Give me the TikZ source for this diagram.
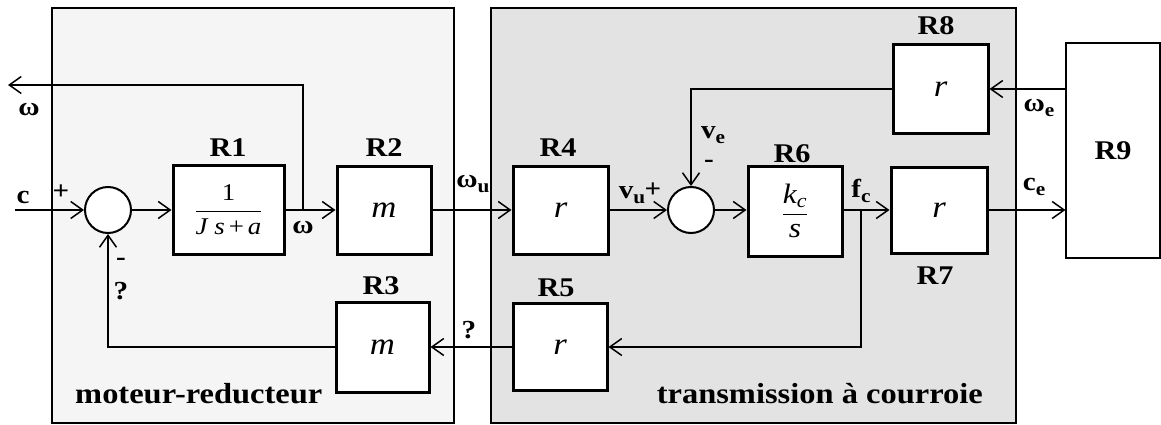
\documentclass[tikz,border=0pt]{standalone}
\usepackage{fontspec}
\usepackage{amsmath}
\setmainfont[FakeStretch=1.12]{Liberation Serif}
\usetikzlibrary{arrows.meta}
\newcommand{\sg}[2]{#1\raisebox{-0.4ex}{\fontsize{19}{19}\selectfont #2}}
\begin{document}
\begin{tikzpicture}[x=1pt,y=-1pt,
 blk/.style={draw, line width=3pt, fill=white, inner sep=0pt, font=\fontsize{31}{33}\selectfont\itshape},
 sumc/.style={draw, circle, line width=2pt, fill=white, minimum size=46pt, inner sep=0pt},
 grp/.style={draw, line width=1.1pt},
 sig/.style={line width=1.2pt, -{Straight Barb[length=12pt,width=17pt,line width=1.5pt]}},
 rl/.style={font=\fontsize{27}{29}\selectfont\bfseries, inner sep=0pt},
 sl/.style={font=\fontsize{26}{28}\selectfont\bfseries, inner sep=0pt},
 gl/.style={font=\fontsize{29}{31}\selectfont\bfseries, inner sep=0pt}
]
\useasboundingbox (0,0) rectangle (1161,425);
% group frames
\fill[gray!8] (52,8) rectangle (454,423);
\draw[grp] (52,8) rectangle (454,423);
\fill[gray!22] (491,8) rectangle (1016,423);
\draw[grp] (491,8) rectangle (1016,423);

% blocks
\node[blk, minimum width=111pt, minimum height=89pt] (R1) at (228.5,210) {\fontsize{24}{26}\selectfont$\dfrac{\text{\upshape 1}}{\text{J s\,\upshape+\,\itshape a}}$};
\node[blk, minimum width=94pt, minimum height=88pt] (R2) at (384,210) {m};
\node[blk, minimum width=95pt, minimum height=88pt] (R4) at (560.5,210) {r};
\node[blk, minimum width=94pt, minimum height=90pt] (R6) at (795,211) {\fontsize{28}{30}\selectfont$\dfrac{\text{k\textsubscript{c}}}{\text{s}}$};
\node[blk, minimum width=96pt, minimum height=86pt] (R7) at (939,210) {r};
\node[blk, minimum width=95pt, minimum height=89pt] (R8) at (940.5,89) {r};
\node[blk, minimum width=93pt, minimum height=90pt] (R3) at (382.5,347) {m};
\node[blk, minimum width=94pt, minimum height=87pt] (R5) at (560,347) {r};
\node[draw, line width=1.1pt, fill=white, minimum width=94pt, minimum height=215pt, inner sep=0pt, font=\fontsize{27}{29}\selectfont\bfseries] (R9) at (1113,150.5) {R9};
\node[sumc] (s1) at (108,210) {};
\node[sumc] (s2) at (691,210) {};

% connectors
\coordinate (cin) at (15,210);
\coordinate (b1) at (303,210);
\coordinate (wout) at (8,85);
\coordinate (b2) at (861,210);
\draw[sig] (cin) -- (s1);
\draw[sig] (s1) -- (R1);
\draw[sig] (R1.east |- s1) -- (R2.west |- s1);
\draw[sig] (b1) |- (wout);
\draw[sig] (R2) -- (R4);
\draw[sig] (R4) -- (s2);
\draw[sig] (s2) -- (R6.west |- s2);
\draw[sig] (R6.east |- s2) -- (R7.west |- s2);
\draw[sig] (b2) |- (R5);
\draw[sig] (R5) -- (R3);
\draw[sig] (R3) -| (s1);
\draw[sig] (R7) -- (R7 -| R9.west);
\draw[sig] (R8 -| R9.west) -- (R8);
\draw[sig] (R8) -| (s2);

% block labels
\node[rl] at (228,148) {R1};
\node[rl] at (384,148) {R2};
\node[rl] at (558,148) {R4};
\node[rl] at (792,154) {R6};
\node[rl] at (936,26) {R8};
\node[rl] at (935,276) {R7};
\node[rl] at (381,286) {R3};
\node[rl] at (556,288) {R5};

% signal labels
\node[sl] at (23,197) {c};
\node[sl] at (61,192) {+};
\node[sl] at (29,110) {ω};
\node[sl] at (303,228) {ω};
\node[sl] at (473,184) {\sg{ω}{u}};
\node[sl] at (632,195) {\sg{v}{u}};
\node[sl] at (653,190) {+};
\node[sl] at (713,135) {\sg{v}{e}};
\node[sl] at (709,164) {-};
\node[sl] at (861,191) {\sg{f}{c}};
\node[sl] at (1034,187) {\sg{c}{e}};
\node[sl] at (1039,108) {\sg{ω}{e}};
\node[sl] at (121,262) {-};
\node[sl] at (121,291) {?};
\node[sl] at (469,330) {?};

% group labels
\node[gl, anchor=base west] at (75,403) {moteur-reducteur};
\node[gl, anchor=base east] at (983,403) {transmission à courroie};
\end{tikzpicture}
\end{document}
